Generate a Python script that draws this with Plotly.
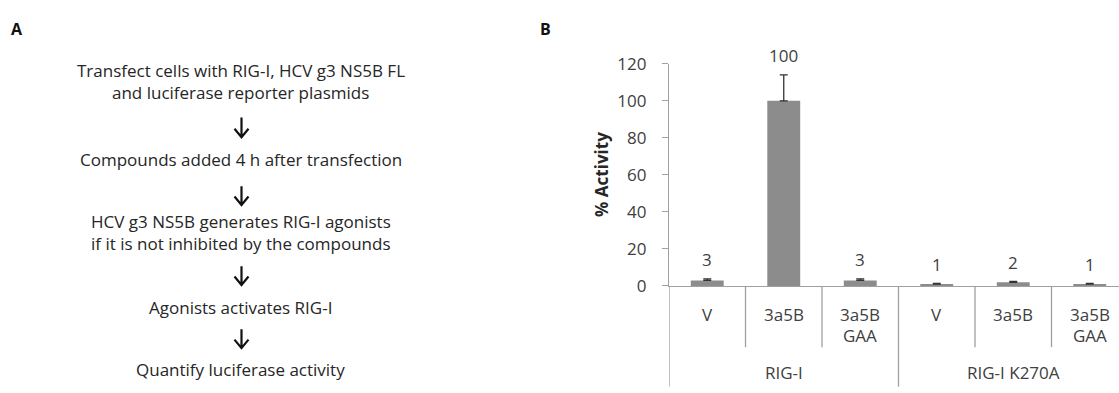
import plotly.graph_objects as go

# ---- data ----
groups = ["RIG-I", "RIG-I K270A"]
sub_labels = ["V", "3a5B", "3a5B<br>GAA", "V", "3a5B", "3a5B<br>GAA"]
group_of = [0, 0, 0, 1, 1, 1]
activity = [3, 100, 3, 1, 2, 1]
errors = [0.8, 14, 0.8, 0.4, 0.5, 0.4]
y_ticks = [0, 20, 40, 60, 80, 100, 120]
step_lines = [
    "Transfect cells with RIG-I, HCV g3 NS5B FL",
    "and luciferase reporter plasmids",
    "Compounds added 4 h after transfection",
    "HCV g3 NS5B generates RIG-I agonists",
    "if it is not inhibited by the compounds",
    "Agonists activates RIG-I",
    "Quantify luciferase activity",
]

W, H = 1119, 393
FONT = "Open Sans"
TXT = "#404040"
AX = "#a0a0a0"

def py(p):  # pixel y -> paper
    return 1 - p / H

def px(p):
    return p / W

x_idx = list(range(len(activity)))

fig = go.Figure()
fig.add_trace(go.Bar(
    x=x_idx, y=activity,
    marker=dict(color="#8c8c8c", line=dict(width=0)),
    width=0.43,
    error_y=dict(type="data", array=errors, symmetric=False, arrayminus=[0]*6,
                 color="#333333", thickness=1.3, width=4),
    hoverinfo="skip",
))

annotations = []
shapes = []

# value labels
for i, (v, e) in enumerate(zip(activity, errors)):
    annotations.append(dict(x=i, y=v + e, xref="x", yref="y", text=str(v),
                            showarrow=False, yshift=19, xanchor="center", yanchor="middle",
                            font=dict(family=FONT, size=17, color=TXT)))

# sub-category labels
for i, lab in enumerate(sub_labels):
    parts = lab.split("<br>")
    for k, part in enumerate(parts):
        annotations.append(dict(x=i, y=py(321 + 23 * k), xref="x", yref="paper", text=part,
                                showarrow=False, xanchor="center", yanchor="middle", borderpad=0,
                                font=dict(family=FONT, size=17, color=TXT)))

# group labels
for g, name in enumerate(groups):
    members = [i for i in x_idx if group_of[i] == g]
    annotations.append(dict(x=sum(members) / len(members), y=py(383), xref="x", yref="paper",
                            text=name, showarrow=False, xanchor="center", yanchor="middle",
                            font=dict(family=FONT, size=17, color=TXT)))

# separators
for i in x_idx:
    if i == 0 or group_of[i] != group_of[i - 1]:
        continue
    shapes.append(dict(type="line", xref="x", yref="paper", x0=i - 0.5, x1=i - 0.5,
                       y0=py(291), y1=py(356), line=dict(color=AX, width=1.3)))
for g in range(len(groups)):
    first = min(i for i in x_idx if group_of[i] == g)
    shapes.append(dict(type="line", xref="x", yref="paper", x0=first - 0.5, x1=first - 0.5,
                       y0=py(291), y1=py(H + 5), line=dict(color=AX, width=1.3)))

# Panel A text
line_y = [62, 85, 157, 223, 246, 314, 380]
for t, yy in zip(step_lines, line_y):
    annotations.append(dict(x=px(241), y=py(yy), xref="paper", yref="paper", text=t,
                            showarrow=False, xanchor="center", yanchor="middle", borderpad=0,
                            font=dict(family=FONT, size=17, color="#262626")))

# arrows (drawn shapes)
arrow_spans = [(112, 133), (185, 205), (270, 290), (337, 357)]
cx = 241.5
for a, b in arrow_spans:
    path = (f"M {px(cx)} {py(a)} L {px(cx)} {py(b)} "
            f"M {px(cx - 7)} {py(b - 9)} L {px(cx)} {py(b)} L {px(cx + 7)} {py(b - 9)}")
    shapes.append(dict(type="path", xref="paper", yref="paper", path=path,
                       line=dict(color="#111111", width=2.2)))

# Panel labels
annotations.append(dict(x=px(17), y=py(18), xref="paper", yref="paper", text="<b>A</b>",
                        showarrow=False, xanchor="center", yanchor="middle",
                        font=dict(family=FONT, size=16, color="#111111")))
annotations.append(dict(x=px(545), y=py(18), xref="paper", yref="paper", text="<b>B</b>",
                        showarrow=False, xanchor="center", yanchor="middle",
                        font=dict(family=FONT, size=16, color="#111111")))

# y-axis title
annotations.append(dict(x=px(602), y=py(173), xref="paper", yref="paper",
                        text="<b>% Activity</b>", textangle=-90, showarrow=False,
                        xanchor="center", yanchor="middle",
                        font=dict(family=FONT, size=17, color="#262626")))

px_per_cat = 76.5
axis_left = 669
right_val = (W - axis_left) / px_per_cat - 0.5

fig.update_layout(
    width=W, height=H,
    margin=dict(l=0, r=0, t=0, b=0),
    paper_bgcolor="white", plot_bgcolor="white",
    showlegend=False,
    annotations=annotations,
    shapes=shapes,
    xaxis=dict(domain=[px(axis_left), 1], range=[-0.5, right_val], showticklabels=False,
               ticks="", showgrid=False, zeroline=False, showline=True,
               linecolor=AX, linewidth=1.3, fixedrange=True),
    yaxis=dict(domain=[py(291), py(55)], range=[0, 120], tickvals=y_ticks,
               ticks="outside", ticklen=6, tickcolor=AX, tickwidth=1.3,
               ticklabelstandoff=12,
               showline=True, linecolor=AX, linewidth=1.3, showgrid=False, zeroline=False,
               tickfont=dict(family=FONT, size=17, color=TXT), fixedrange=True),
)

fig.write_html("out.html")
